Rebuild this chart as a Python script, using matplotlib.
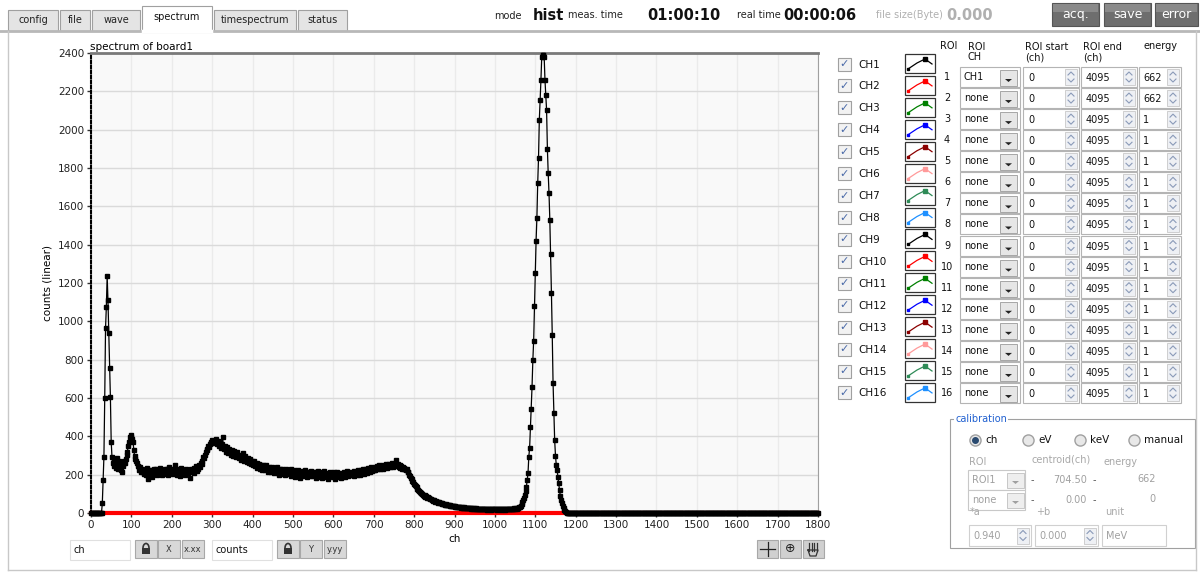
import matplotlib.pyplot as plt
import matplotlib.patches as mpatches
import numpy as np

plt.rcParams['font.family'] = ['DejaVu Sans']

# CH1 spectrum, counts every 2 channels from ch 0 to ch 1198
ch1_counts = [
    0, 0, 0, 0, 0, 0, 0, 0, 0, 0, 0, 0, 0, 2, 50, 172, 294, 600, 965, 1076, 1236, 1110, 937, 756, 607,
    372, 290, 262, 281, 243, 266, 235, 288, 252, 231, 270, 248, 226, 216, 258, 247, 272, 262, 280, 301, 318, 352, 372, 395, 407,
    396, 384, 372, 330, 295, 284, 270, 262, 245, 238, 225, 242, 216, 230, 212, 226, 205, 221, 198, 234, 211, 180, 226, 205, 218,
    190, 225, 210, 232, 204, 218, 228, 196, 214, 222, 206, 236, 212, 198, 225, 214, 232, 205, 220, 228, 200, 216, 240, 210, 222,
    212, 230, 205, 218, 252, 215, 200, 228, 210, 222, 192, 235, 212, 206, 224, 216, 198, 230, 215, 222, 208, 226, 185, 218, 230,
    212, 225, 236, 208, 230, 244, 220, 238, 232, 252, 240, 262, 258, 270, 290, 285, 305, 318, 330, 336, 350, 345, 362, 370, 366,
    381, 372, 365, 378, 370, 384, 362, 375, 352, 368, 358, 340, 362, 394, 345, 335, 352, 320, 342, 330, 315, 336, 322, 305, 330,
    318, 300, 322, 296, 312, 290, 318, 300, 285, 305, 292, 276, 300, 311, 282, 270, 295, 278, 265, 288, 270, 260, 282, 258, 272,
    262, 248, 270, 245, 258, 236, 262, 240, 255, 230, 250, 238, 226, 252, 232, 244, 222, 250, 235, 215, 242, 228, 236, 212, 240,
    222, 235, 208, 230, 218, 240, 210, 226, 200, 232, 216, 205, 228, 212, 222, 198, 230, 215, 206, 225, 210, 220, 195, 228, 212,
    200, 222, 208, 190, 218, 205, 226, 196, 212, 185, 215, 204, 220, 192, 210, 225, 198, 212, 188, 215, 205, 195, 220, 200, 210,
    192, 215, 202, 185, 212, 198, 220, 190, 208, 196, 214, 182, 205, 195, 218, 200, 188, 210, 196, 175, 205, 212, 192, 208, 186,
    200, 212, 180, 205, 195, 216, 188, 202, 194, 210, 185, 205, 198, 215, 190, 206, 200, 220, 192, 204, 210, 196, 215, 200, 208,
    195, 218, 205, 212, 198, 222, 208, 214, 200, 225, 210, 218, 232, 205, 220, 214, 228, 210, 235, 218, 224, 212, 238, 220, 230,
    225, 240, 222, 235, 245, 228, 238, 250, 232, 244, 236, 252, 230, 246, 240, 255, 236, 248, 242, 258, 238, 250, 245, 262, 240,
    252, 245, 258, 276, 248, 255, 240, 250, 236, 246, 232, 240, 228, 236, 232, 222, 228, 212, 215, 200, 195, 185, 178, 168, 160,
    152, 145, 140, 135, 126, 122, 115, 112, 105, 104, 98, 96, 90, 92, 85, 88, 80, 84, 76, 78, 72, 75, 68, 70, 64,
    66, 60, 62, 56, 58, 52, 55, 50, 54, 48, 50, 46, 48, 44, 46, 42, 44, 40, 42, 38, 40, 36, 38, 34, 36,
    33, 35, 31, 33, 30, 32, 29, 31, 28, 30, 28, 26, 29, 27, 25, 28, 26, 24, 27, 25, 23, 26, 24, 22, 25,
    23, 21, 24, 22, 20, 23, 21, 19, 22, 20, 23, 21, 19, 22, 20, 18, 21, 19, 22, 20, 18, 21, 19, 22, 20,
    19, 21, 18, 20, 22, 19, 21, 18, 20, 22, 19, 21, 18, 20, 22, 19, 21, 20, 22, 19, 21, 23, 20, 22, 24,
    22, 25, 23, 26, 28, 30, 33, 38, 45, 55, 68, 80, 94, 115, 137, 170, 207, 294, 340, 450, 545, 660, 798, 900, 1080,
    1250, 1420, 1540, 1720, 1850, 2050, 2154, 2259, 2380, 2392, 2389, 2380, 2259, 2180, 2102, 1900, 1772, 1668, 1530, 1350, 1146, 930, 680, 520, 380,
    300, 250, 225, 190, 155, 120, 90, 68, 50, 38, 28, 18, 10, 5, 2, 0, 0, 0, 0, 0, 0, 0, 0, 0, 0,
]
ch1_tail = [0] * 301          # ch 1200 .. 1800 are empty
channels = np.arange(0, 1801, 2)
counts1 = np.array(ch1_counts + ch1_tail)
counts2 = np.zeros(len(channels))   # CH2 shows an empty spectrum

ch_names = ['CH%d' % i for i in range(1, 17)]
ch_colors = ['black', 'red', 'green', 'blue', '#8b0000', '#ff9a9a', '#2e8b57', '#1e90ff',
             'black', 'red', 'green', 'blue', '#8b0000', '#ff9a9a', '#2e8b57', '#1e90ff']
roi_ch = ['CH1'] + ['none'] * 15
roi_start = ['0'] * 16
roi_end = ['4095'] * 16
roi_energy = ['662', '662'] + ['1'] * 14
tabs = ['config', 'file', 'wave', 'spectrum', 'timespectrum', 'status']
tab_x = [(8, 58), (60, 90), (92, 140), (142, 212), (214, 296), (298, 347)]

fig = plt.figure(figsize=(12, 5.72), dpi=100)
fig.patch.set_facecolor('white')

# ---------- GUI panel drawn in pixel coordinates ----------
ui = fig.add_axes([0, 0, 1, 1], zorder=0)
ui.set_xlim(0, 1200)
ui.set_ylim(572, 0)
ui.axis('off')

def box(x0, y0, x1, y1, fc='white', ec='#a8a8a8', lw=0.8):
    ui.add_patch(mpatches.Rectangle((x0, y0), x1 - x0, y1 - y0, fc=fc, ec=ec, lw=lw))

def txt(x, y, s, size=7, **kw):
    ui.text(x, y, s, fontsize=size, va='center', **kw)

def spinner(x, y):
    box(x, y - 8, x + 12, y + 8, fc='#eef0f4', ec='#c8c8c8', lw=0.6)
    ui.plot([x + 3, x + 6, x + 9], [y - 2, y - 5, y - 2], color='#8a9ab8', lw=0.8)
    ui.plot([x + 3, x + 6, x + 9], [y + 2, y + 5, y + 2], color='#8a9ab8', lw=0.8)

def dropdown(x, y):
    box(x, y - 8, x + 17, y + 8, fc='#e6e6e6', ec='#9a9a9a', lw=0.6)
    ui.add_patch(mpatches.Polygon([[x + 5, y + 1], [x + 12, y + 1], [x + 8.5, y + 4]], fc='#222', ec='none'))

def lock(x, y):
    # small padlock icon centred on (x, y); y axis points down here
    ui.add_patch(mpatches.Rectangle((x - 4, y - 1), 8, 6, fc='#333', ec='none'))
    ui.add_patch(mpatches.Arc((x, y - 1), 6, 9, theta1=180, theta2=360, color='#333', lw=1.2))

# outer panel
ui.plot([0, 1200], [31, 31], color='#b8b8b8', lw=2)
ui.plot([8, 8], [31, 570], color='#c8c8c8', lw=1)
ui.plot([8, 1196], [570, 570], color='#c8c8c8', lw=1)
ui.plot([1196, 1196], [31, 570], color='#c8c8c8', lw=1)

# tabs
for name, (x0, x1) in zip(tabs, tab_x):
    if name == 'spectrum':
        box(x0, 6, x1, 32, fc='white', ec='#a0a0a0')
        ui.plot([x0 + 1, x1 - 1], [31, 31], color='white', lw=2.5)
        txt((x0 + x1) / 2, 17, name, ha='center', color='#111')
    else:
        box(x0, 10, x1, 31, fc='#e4e4e4', ec='#a0a0a0')
        txt((x0 + x1) / 2, 20, name, ha='center', color='#222')

# header
txt(494, 16, 'mode', 7, color='#222')
txt(533, 15, 'hist', 10.5, weight='bold', color='#111')
txt(568, 15, 'meas. time', 7, color='#222')
txt(647, 15, '01:00:10', 10.5, weight='bold', color='#111')
txt(737, 15, 'real time', 7, color='#222')
txt(783, 15, '00:00:06', 10.5, weight='bold', color='#111')
txt(876, 15, 'file size(Byte)', 7, color='#b0b0b0')
txt(946, 15, '0.000', 10.5, weight='bold', color='#b0b0b0')
for label, (x0, x1) in zip(['acq.', 'save', 'error'], [(1052, 1099), (1104, 1151), (1155, 1198)]):
    box(x0, 3, x1, 26, fc='#6e6e6e', ec='#555555')
    box(x0 + 1, 4, x1 - 1, 12, fc='#8a8a8a', ec='none', lw=0)
    txt((x0 + x1) / 2, 14.5, label, 9, ha='center', color='white')

# channel checkboxes and legend icons
for i, (name, col) in enumerate(zip(ch_names, ch_colors)):
    y = 64 + i * 21.93
    box(838, y - 6.5, 851, y + 6.5, fc='#f2f2f2', ec='#a0a0a0')
    txt(844.5, y, '\u2713', 8, ha='center', color='#4a6aa8', weight='bold')
    txt(858, y + 0.5, name, 7.5, color='#111')
    box(905, y - 10, 935, y + 9, fc='white', ec='#333333', lw=0.9)
    ui.plot([908, 917, 925, 932], [y + 5, y - 1, y - 5, y], color=col, lw=0.9)
    ui.plot([925], [y - 5], marker='s', ms=2.5, color=col)
    ui.plot([908], [y + 5], marker='s', ms=2.0, color=col)

# ROI table
txt(940, 46, 'ROI', 7, color='#111')
txt(968, 52, 'ROI\nCH', 7, color='#111', linespacing=1.1)
txt(1025, 52, 'ROI start\n(ch)', 7, color='#111', linespacing=1.1)
txt(1083, 52, 'ROI end\n(ch)', 7, color='#111', linespacing=1.1)
txt(1143, 46, 'energy', 7, color='#111')
for i in range(16):
    y = 77 + i * 21.07
    txt(947, y, str(i + 1), 7, ha='center', color='#111')
    box(960, y - 10, 1020, y + 10, fc='white', ec='#b4b4b4')
    txt(964, y, roi_ch[i], 7, color='#111')
    dropdown(1000, y + 1)
    box(1023, y - 10, 1079, y + 10, fc='white', ec='#b4b4b4')
    txt(1028, y + 1, roi_start[i], 7, color='#111')
    spinner(1065, y)
    box(1081, y - 10, 1137, y + 10, fc='white', ec='#b4b4b4')
    txt(1086, y + 1, roi_end[i], 7, color='#111')
    spinner(1123, y)
    box(1139, y - 10, 1181, y + 10, fc='white', ec='#b4b4b4')
    txt(1143, y + 1, roi_energy[i], 7, color='#111')
    spinner(1167, y)

# calibration group
box(950, 419, 1195, 548, fc='white', ec='#a0a0a0')
ui.text(955, 419, 'calibration', fontsize=7, va='center', color='#2060d0',
        bbox=dict(fc='white', ec='none', pad=0.5))
for lab, x, on in [('ch', 975, True), ('eV', 1028, False), ('keV', 1080, False), ('manual', 1134, False)]:
    ui.plot([x], [440], marker='o', ms=8, mfc='#e8e8e8', mec='#a0a0a0')
    if on:
        ui.plot([x], [440], marker='o', ms=4, color='#2a4a70')
    txt(x + 10, 440, lab, 7.5, color='#111')
txt(969, 462, 'ROI', 7, color='#a8a8a8')
txt(1031, 460, 'centroid(ch)', 7, color='#a8a8a8')
txt(1103, 462, 'energy', 7, color='#a8a8a8')
for j, (roi, cen, en) in enumerate([('ROI1', '704.50', '662'), ('none', '0.00', '0')]):
    y = 480 + j * 20
    box(968, y - 10, 1025, y + 10, fc='white', ec='#c8c8c8')
    txt(972, y, roi, 7, color='#a0a0a0')
    box(1007, y - 7, 1024, y + 8, fc='#eeeeee', ec='#c0c0c0', lw=0.6)
    ui.add_patch(mpatches.Polygon([[1012, y + 1], [1019, y + 1], [1015.5, y + 4]], fc='#a0a0a0', ec='none'))
    txt(1031, y, '-', 7, color='#555')
    txt(1087, y, cen, 7, ha='right', color='#a0a0a0')
    txt(1093, y, '-', 7, color='#555')
    txt(1156, y - 1, en, 7, ha='right', color='#a0a0a0')
txt(970, 512, '*a', 7, color='#a8a8a8')
txt(1036, 512, '+b', 7, color='#a8a8a8')
txt(1105, 512, 'unit', 7, color='#a8a8a8')
for val, (x0, x1) in zip(['0.940', '0.000'], [(969, 1031), (1035, 1098)]):
    box(x0, 525, x1, 546, fc='white', ec='#d0d0d0')
    txt(x0 + 4, 536, val, 7, color='#a0a0a0')
    spinner(x1 - 14, 535.5)
box(1102, 525, 1166, 546, fc='white', ec='#d0d0d0')
txt(1106, 536, 'MeV', 7, color='#a0a0a0')

# graph tools under the plot
box(70, 540, 130, 560, fc='white', ec='#e0e0e0')
txt(74, 550, 'ch', 7, color='#111')
box(212, 540, 272, 560, fc='white', ec='#e0e0e0')
txt(216, 550, 'counts', 7, color='#111')
for x0, lab in [(135, ''), (158, 'X'), (182, 'x.xx'), (277, ''), (300, 'Y'), (324, 'y.yy')]:
    box(x0, 540, x0 + 22, 558, fc='#d8d8d8', ec='#a8a8a8')
    if lab:
        txt(x0 + 11, 549, lab, 6, ha='center', color='#333')
lock(146, 549)
lock(288, 549)
for x0 in [757, 780, 803]:
    box(x0, 540, x0 + 21, 558, fc='#d0d0d0', ec='#a8a8a8')
ui.plot([760, 775], [549, 549], color='#222', lw=0.9)
ui.plot([767.5, 767.5], [542, 556], color='#222', lw=0.9)
txt(790.5, 549, '\u2295', 9, ha='center', color='#222')
# hand (pan) icon drawn as fingers
for fx in [809, 811.5, 814, 816.5]:
    ui.plot([fx, fx], [543, 551], color='#333', lw=0.9)
ui.plot([808, 818, 816, 810, 808], [550, 550, 556, 556, 550], color='#333', lw=0.9)

# ---------- spectrum graph ----------
ax = fig.add_axes([91 / 1200, 1 - 513 / 572, 727 / 1200, 460 / 572], zorder=1)
ax.set_facecolor('#f9f9f9')
ax.plot(channels, counts2, color='red', lw=3, zorder=2.6, clip_on=False)
ax.plot(channels, counts1, color='black', lw=0.9, marker='s', ms=2.5, zorder=3, clip_on=False)
ax.set_xlim(0, 1800)
ax.set_ylim(0, 2400)
ax.set_xticks(np.arange(0, 1801, 100))
ax.set_yticks(np.arange(0, 2401, 200))
ax.grid(axis='y', color='#dadada', lw=1)
ax.grid(axis='x', color='#ebebeb', lw=1)
ax.set_axisbelow(True)
ax.tick_params(direction='out', length=3, width=1, color='#333', labelsize=7.5, pad=2, labelcolor='#222')
for s in ax.spines.values():
    s.set_color('#a0a0a0')
ax.spines['top'].set_color('#7a7a7a')
ax.spines['top'].set_linewidth(2)
ax.spines['left'].set_color('black')
ax.spines['left'].set_linestyle((0, (1.2, 1.2)))
ax.spines['left'].set_linewidth(1.5)
ax.spines['bottom'].set_color('#222')
ax.spines['bottom'].set_linewidth(1.5)
ax.set_xlabel('ch', fontsize=7.5, labelpad=3)
ax.set_ylabel('counts (linear)', fontsize=7.5, labelpad=4)
ax.set_title('spectrum of board1', fontsize=7.5, loc='left', pad=2, x=-0.001)

fig.savefig('out.png', dpi=100)
